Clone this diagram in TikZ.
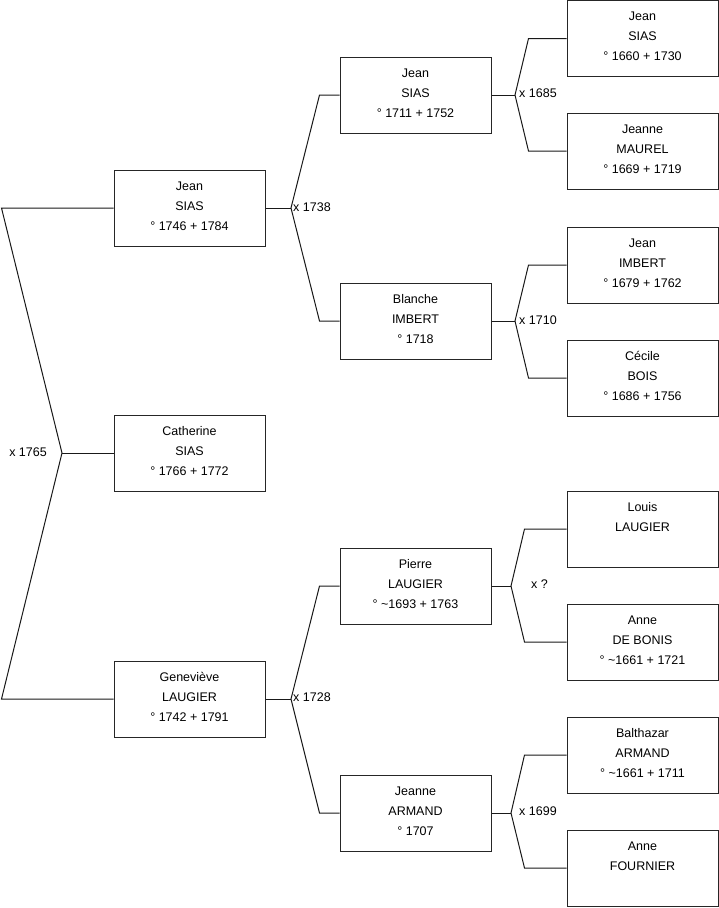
\documentclass[tikz,border=0pt]{standalone}
\usepackage{fontspec}
\setmainfont{Liberation Sans}
\begin{document}
\begin{tikzpicture}[x=1pt,y=-1pt,
  person/.style={draw=black!85,line width=1pt,rectangle,minimum width=151pt,minimum height=76pt,
    align=center,font=\fontsize{12.5}{20}\selectfont,inner sep=0pt,text depth=4pt},
  link/.style={draw=black!90,line width=1pt},
  marr/.style={font=\fontsize{12.5}{14}\selectfont,inner sep=0pt}]
\useasboundingbox (0,0) rectangle (719,908);
% column 1
\node[person] (c1a) at (189.5,208) {Jean\\SIAS\\° 1746 + 1784};
\node[person] (c1b) at (189.5,453) {Catherine\\SIAS\\° 1766 + 1772};
\node[person] (c1c) at (189.5,699) {Geneviève\\LAUGIER\\° 1742 + 1791};
% column 2
\node[person] (c2a) at (415.5,95) {Jean\\SIAS\\° 1711 + 1752};
\node[person] (c2b) at (415.5,321) {Blanche\\IMBERT\\° 1718};
\node[person] (c2c) at (415.5,586) {Pierre\\LAUGIER\\° \textasciitilde 1693 + 1763};
\node[person] (c2d) at (415.5,813) {Jeanne\\ARMAND\\° 1707};
% column 3
\node[person] (c3a) at (642.5,38.5) {Jean\\SIAS\\° 1660 + 1730};
\node[person] (c3b) at (642.5,151) {Jeanne\\MAUREL\\° 1669 + 1719};
\node[person] (c3c) at (642.5,265) {Jean\\IMBERT\\° 1679 + 1762};
\node[person] (c3d) at (642.5,378) {Cécile\\BOIS\\° 1686 + 1756};
\node[person] (c3e) at (642.5,529) {Louis\\LAUGIER\\\mbox{}};
\node[person] (c3f) at (642.5,642) {Anne\\DE BONIS\\° \textasciitilde 1661 + 1721};
\node[person] (c3g) at (642.5,755) {Balthazar\\ARMAND\\° \textasciitilde 1661 + 1711};
\node[person] (c3h) at (642.5,868) {Anne\\FOURNIER\\\mbox{}};
% junctions
\coordinate (j0) at (62,453);
\coordinate (j1) at (291,208);
\coordinate (j2) at (291,699);
\coordinate (j3) at (515,95);
\coordinate (j4) at (515,321);
\coordinate (j5) at (511,586);
\coordinate (j6) at (511,813);
% left fork
\draw[link] (c1a.west) -- ([xshift=-112pt]c1a.west) -- (j0) -- ([xshift=-112pt]c1c.west) -- (c1c.west);
\draw[link] (j0) -- (c1b.west);
\node[marr,anchor=east] (m0) at (47,452) {x 1765};
% column 1 -> 2
\draw[link] (c1a.east) -- (j1);
\draw[link] (c2a.west) -- ([xshift=-20pt]c2a.west) -- (j1) -- ([xshift=-20pt]c2b.west) -- (c2b.west);
\node[marr,anchor=west] (m1) at (293,207) {x 1738};
\draw[link] (c1c.east) -- (j2);
\draw[link] (c2c.west) -- ([xshift=-20pt]c2c.west) -- (j2) -- ([xshift=-20pt]c2d.west) -- (c2d.west);
\node[marr,anchor=west] (m2) at (293,697) {x 1728};
% column 2 -> 3
\draw[link] (c2a.east) -- (j3);
\draw[link] (c3a.west) -- ([xshift=-38pt]c3a.west) -- (j3) -- ([xshift=-38pt]c3b.west) -- (c3b.west);
\node[marr,anchor=west] (m3) at (519,93) {x 1685};
\draw[link] (c2b.east) -- (j4);
\draw[link] (c3c.west) -- ([xshift=-38pt]c3c.west) -- (j4) -- ([xshift=-38pt]c3d.west) -- (c3d.west);
\node[marr,anchor=west] (m4) at (519,320) {x 1710};
\draw[link] (c2c.east) -- (j5);
\draw[link] (c3e.west) -- ([xshift=-42pt]c3e.west) -- (j5) -- ([xshift=-42pt]c3f.west) -- (c3f.west);
\node[marr,anchor=west] (m5) at (531,584) {x ?};
\draw[link] (c2d.east) -- (j6);
\draw[link] (c3g.west) -- ([xshift=-42pt]c3g.west) -- (j6) -- ([xshift=-42pt]c3h.west) -- (c3h.west);
\node[marr,anchor=west] (m6) at (519,811) {x 1699};
\end{tikzpicture}
\end{document}
